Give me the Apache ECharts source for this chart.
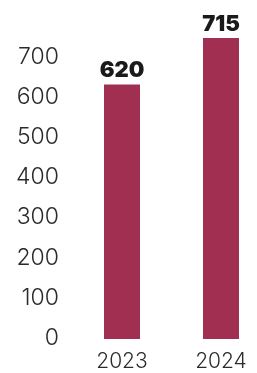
<!DOCTYPE html>
<html>
<head>
<meta charset="utf-8">
<script src="https://cdn.jsdelivr.net/npm/echarts@6/dist/echarts.min.js"></script>
<style>
html,body{margin:0;padding:0;background:#fff;}
#c{width:257px;height:373px;}
</style>
</head>
<body>
<div id="c"></div>
<script>
var categories = ['2023', '2024'];
var values = [620, 715];
var yTickValues = [0, 100, 200, 300, 400, 500, 600, 700];

var chart = echarts.init(document.getElementById('c'), null, {renderer: 'canvas'});
var option = {
  animation: false,
  grid: [
    {left: 67, width: 100, top: 57, bottom: 35},
    {left: 122, right: 36, top: 38, bottom: 34}
  ],
  xAxis: [
    {gridIndex: 0, type: 'value', show: false},
    {
      gridIndex: 1, type: 'category', data: categories, boundaryGap: false,
      axisLine: {show: false}, axisTick: {show: false},
      axisLabel: {color: '#2b2b2b', fontSize: 21, fontFamily: 'Inter', fontWeight: 300, margin: 12}
    }
  ],
  yAxis: [
    {
      gridIndex: 0, type: 'value', min: yTickValues[0], max: yTickValues[yTickValues.length - 1], interval: 100,
      axisLine: {show: false}, axisTick: {show: false}, splitLine: {show: false},
      axisLabel: {color: '#2b2b2b', fontSize: 23, fontFamily: 'Inter', fontWeight: 300, margin: 8}
    },
    {gridIndex: 1, type: 'value', min: 100, max: 715, show: false, splitLine: {show: false}}
  ],
  series: [{
    type: 'bar',
    xAxisIndex: 1, yAxisIndex: 1,
    data: values,
    barWidth: 36,
    clip: true,
    itemStyle: {color: '#a02f51'},
    label: {
      show: true, position: 'top', distance: 3,
      color: '#1a1a1a', fontSize: 22, fontWeight: 900, fontFamily: 'Inter'
    }
  }]
};
chart.setOption(option);
</script>
</body>
</html>
